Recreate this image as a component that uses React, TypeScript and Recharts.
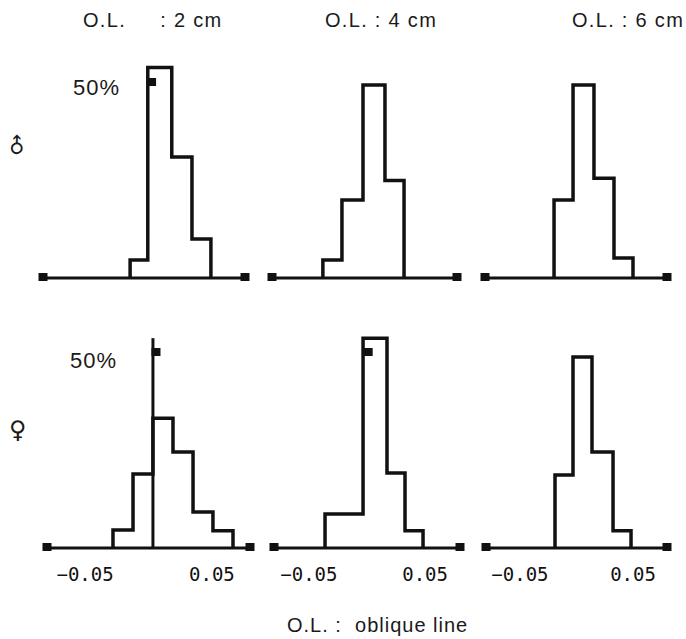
import React from 'react';
import { LineChart, Line, XAxis, YAxis, ReferenceDot, ReferenceLine } from 'recharts';

// bin edges (O.L. value) and share of each bin (%)
const maleEdges2 = [-0.011, 0.003, 0.022, 0.038, 0.053];
const maleShare2 = [4.6, 54, 31, 10];
const maleEdges4 = [-0.036, -0.0195, -0.0013, 0.0177, 0.0342];
const maleShare4 = [4.6, 20, 49.5, 25];
const maleEdges6 = [-0.0193, -0.0026, 0.0158, 0.0334, 0.0501];
const maleShare6 = [20, 49.5, 25.6, 5.1];

const femaleEdges2 = [-0.028, -0.0122, 0.0035, 0.0193, 0.0351, 0.0508, 0.0666];
const femaleShare2 = [4.6, 19, 33.3, 24.6, 9.2, 4.4];
const femaleEdges4 = [-0.0361, -0.0198, -0.0034, 0.0172, 0.0327, 0.0482];
const femaleShare4 = [8.7, 8.7, 53.8, 19.2, 4.4];
const femaleEdges6 = [-0.019, -0.0031, 0.0137, 0.0323, 0.0482];
const femaleShare6 = [18.7, 49, 24.6, 4.4];

const axisEnds = [-0.08, 0.08];
const xTicks = [-0.05, 0.05];
const titles = ['O.L.     : 2 cm', 'O.L. : 4 cm', 'O.L. : 6 cm'];

function stepPoints(edges: number[], share: number[]) {
  const pts = [{ x: edges[0], y: 0 }];
  share.forEach((s, i) => pts.push({ x: edges[i], y: s }));
  pts.push({ x: edges[edges.length - 1], y: 0 });
  return pts;
}

const ink = '#111';
const Square = (p: any) => <rect x={p.cx - 4.5} y={p.cy - 5} width={9} height={8} fill={ink} />;

type PanelProps = {
  left: number;
  top: number;
  plotWidth: number;
  edges: number[];
  share: number[];
  showTicks: boolean;
  marker?: { x: number; y: number };
  stub?: { x: number; y: number };
};

function Panel(props: PanelProps) {
  const m = 10;
  return (
    <div style={{ position: 'absolute', left: props.left - m, top: props.top - m }}>
      <LineChart
        width={props.plotWidth + 2 * m}
        height={m + 234 + 40}
        margin={{ top: m, right: m, bottom: 0, left: m }}
      >
        <XAxis
          type="number"
          dataKey="x"
          domain={axisEnds}
          ticks={xTicks}
          tickFormatter={(v: number) => (v < 0 ? '\u22120.05' : '0.05')}
          axisLine={{ stroke: ink, strokeWidth: 3 }}
          tickLine={false}
          tickMargin={14}
          height={40}
          tick={
            props.showTicks
              ? { fill: ink, fontSize: 19, fontFamily: 'DejaVu Sans Mono' }
              : false
          }
        />
        <YAxis type="number" domain={[0, 60]} hide />
        {props.stub && (
          <ReferenceLine
            segment={[
              { x: props.stub.x, y: 0 },
              { x: props.stub.x, y: props.stub.y },
            ]}
            stroke={ink}
            strokeWidth={3}
          />
        )}
        <Line
          data={stepPoints(props.edges, props.share)}
          dataKey="y"
          type="stepAfter"
          stroke={ink}
          strokeWidth={3.5}
          dot={false}
          isAnimationActive={false}
        />
        {axisEnds.map((x) => (
          <ReferenceDot key={x} x={x} y={0} r={4} shape={Square} />
        ))}
        {props.marker && (
          <ReferenceDot x={props.marker.x} y={props.marker.y} r={4} shape={Square} />
        )}
      </LineChart>
    </div>
  );
}

const txt: React.CSSProperties = {
  position: 'absolute',
  fontFamily: 'Liberation Sans, Arial, sans-serif',
  color: '#1a1a1a',
  whiteSpace: 'pre',
};

export default function App() {
  return (
    <div
      style={{
        position: 'absolute',
        left: 0,
        top: 0,
        width: 686,
        height: 639,
        background: '#fff',
        overflow: 'hidden',
      }}
    >
      {titles.map((t, i) => (
        <div
          key={t}
          style={{ ...txt, left: [83, 325, 572][i], top: 10, fontSize: 20, lineHeight: '20px', letterSpacing: 1.3 }}
        >
          {t}
        </div>
      ))}
      <div style={{ ...txt, left: 73, top: 77, fontSize: 22, lineHeight: '22px', letterSpacing: 1 }}>50%</div>
      <div style={{ ...txt, left: 70, top: 350, fontSize: 22, lineHeight: '22px', letterSpacing: 1 }}>50%</div>
      <div
        style={{
          ...txt,
          left: 8,
          top: 135,
          width: 16,
          textAlign: 'center',
          fontFamily: 'DejaVu Sans',
          fontSize: 21,
          lineHeight: '24px',
          transform: 'rotate(-45deg)',
        }}
      >
        ♂
      </div>
      <div style={{ ...txt, left: 9, top: 416, fontFamily: 'DejaVu Sans', fontSize: 24, lineHeight: '28px' }}>♀</div>
      <div style={{ ...txt, left: 287, top: 615, fontSize: 20, lineHeight: '20px', letterSpacing: 1 }}>
        O.L. :  oblique line
      </div>

      <Panel left={43} top={44} plotWidth={202} edges={maleEdges2} share={maleShare2} showTicks={false} marker={{ x: 0.006, y: 50 }} />
      <Panel left={272} top={44} plotWidth={185} edges={maleEdges4} share={maleShare4} showTicks={false} />
      <Panel left={485} top={44} plotWidth={182} edges={maleEdges6} share={maleShare6} showTicks={false} />
      <Panel
        left={47}
        top={314}
        plotWidth={203}
        edges={femaleEdges2}
        share={femaleShare2}
        showTicks
        marker={{ x: 0.0059, y: 50 }}
        stub={{ x: 0.0035, y: 53.8 }}
      />
      <Panel left={274} top={314} plotWidth={186} edges={femaleEdges4} share={femaleShare4} showTicks marker={{ x: 0.001, y: 50 }} />
      <Panel left={486} top={314} plotWidth={181} edges={femaleEdges6} share={femaleShare6} showTicks />
    </div>
  );
}
